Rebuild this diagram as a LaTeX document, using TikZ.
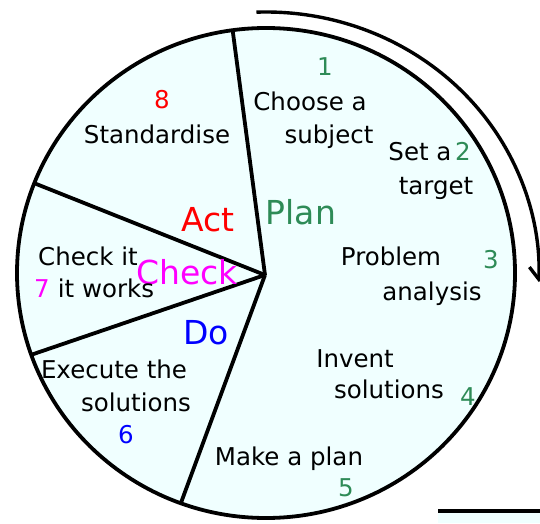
\documentclass[tikz,border=0pt]{standalone}
\usepackage{fontspec}
\setmainfont{DejaVu Sans}
\usepackage{xcolor}
\usepackage{tikz}
\usetikzlibrary{arrows.meta}
\definecolor{pdcafill}{RGB}{240,255,255}
\definecolor{plangreen}{RGB}{46,139,87}
\definecolor{checkpink}{RGB}{255,0,255}
\definecolor{actred}{RGB}{255,0,0}
\definecolor{doblue}{RGB}{0,0,255}
\tikzstyle{steptext} = [inner sep=0pt, text height=17pt, text depth=0pt, font=\fontsize{24.5}{28}\selectfont, text=black]
\tikzstyle{stepnum} = [inner sep=0pt, text height=17pt, text depth=0pt, font=\fontsize{24.5}{28}\selectfont]
\tikzstyle{phase} = [inner sep=0pt, text height=24pt, text depth=0pt, font=\fontsize{33}{38}\selectfont]
\tikzstyle{border} = [line width=3.8pt, line join=round]
\tikzstyle{arrow} = [line width=3.4pt, -{Straight Barb[length=12pt,width=20pt]}]

\begin{document}
\begin{tikzpicture}[x=1pt, y=1pt]
        \clip (0,0) rectangle (540,523);

        % Lingkaran PDCA
        \fill[pdcafill] (266,250) ellipse [x radius=249pt, y radius=245pt];
        \coordinate (hub) at (265,248);
        \coordinate (rimact) at ([shift={(266,250)}]97.7:249pt and 245pt);
        \coordinate (rimcheck) at ([shift={(266,250)}]158.5:249pt and 245pt);
        \coordinate (rimdo) at ([shift={(266,250)}]199.5:249pt and 245pt);
        \coordinate (rimplan) at ([shift={(266,250)}]250:249pt and 245pt);
        \draw [border] (hub) -- (rimact);
        \draw [border] (hub) -- (rimcheck);
        \draw [border] (hub) -- (rimdo);
        \draw [border] (hub) -- (rimplan);
        \draw [border] (266,250) ellipse [x radius=249pt, y radius=245pt];

        % Panah putaran
        \coordinate (turnstart) at ([shift={(266,250)}]92:273pt and 261pt);
        \draw [arrow] (turnstart) arc [start angle=92, end angle=-2, x radius=273pt, y radius=261pt];

        % Garis pojok kanan bawah
        \fill[pdcafill] (438,0) rectangle (540,11);
        \coordinate (edgeleft) at (438,12);
        \coordinate (edgeright) at (540,12);
        \draw [line width=3.6pt] (edgeleft) -- (edgeright);

        % Plan
        \node (num1) [stepnum, text=plangreen] at (325,456) {1};
        \node (plan1a) [steptext] at (310,421) {Choose a};
        \node (plan1b) [steptext] at (329,388) {subject};
        \node (plan2a) [steptext] at (420,371) {Set a};
        \node (num2) [stepnum, text=plangreen] at (463,371) {2};
        \node (plan2b) [steptext] at (436,337) {target};
        \node (plan) [phase, text=plangreen] at (301,311) {Plan};
        \node (plan3a) [steptext] at (391,266) {Problem};
        \node (num3) [stepnum, text=plangreen] at (491,263) {3};
        \node (plan3b) [steptext] at (432,231) {analysis};
        \node (plan4a) [steptext] at (355,164) {Invent};
        \node (plan4b) [steptext] at (389,133) {solutions};
        \node (num4) [stepnum, text=plangreen] at (468,126) {4};
        \node (plan5) [steptext] at (289,66) {Make a plan};
        \node (num5) [stepnum, text=plangreen] at (346,35) {5};

        % Do
        \node (do) [phase, text=doblue] at (206,191) {Do};
        \node (do6a) [steptext] at (114,153) {Execute the};
        \node (do6b) [steptext] at (136,120) {solutions};
        \node (num6) [stepnum, text=doblue] at (126,88) {6};

        % Check
        \node (check) [phase, text=checkpink] at (187,251) {Check};
        \node (check7a) [steptext] at (88,266) {Check it};
        \node (num7) [stepnum, text=checkpink] at (42,234) {7};
        \node (check7b) [steptext] at (106,234) {it works};

        % Act
        \node (act) [phase, text=actred] at (208,304) {Act};
        \node (num8) [stepnum, text=actred] at (162,423) {8};
        \node (act8) [steptext] at (157,388) {Standardise};
    \end{tikzpicture}
\end{document}
